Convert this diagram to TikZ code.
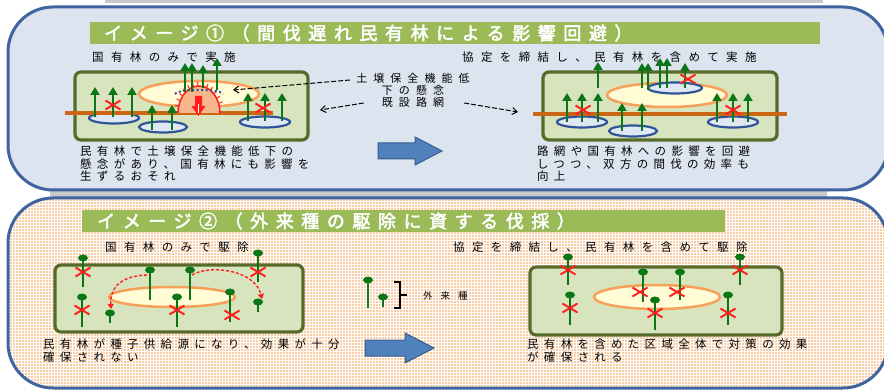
\documentclass[tikz,border=0pt]{standalone}
\usepackage{fontspec}
\usetikzlibrary{arrows.meta,patterns}
\newfontfamily\jp{Noto Sans CJK JP}
% size, baseline skip, letter spacing
\newcommand\jpf[3]{\fontsize{#1}{#2}\jp\addfontfeature{LetterSpace=#3}}

\definecolor{panelblue}{RGB}{220,228,240}
\definecolor{panelline}{RGB}{63,100,160}
\definecolor{peach}{RGB}{249,204,164}
\definecolor{titlegreen}{RGB}{155,187,89}
\definecolor{forest}{RGB}{215,228,189}
\definecolor{forestline}{RGB}{88,106,42}
\definecolor{clearing}{RGB}{255,252,214}
\definecolor{clearline}{RGB}{247,160,90}
\definecolor{roadbrown}{RGB}{204,102,20}
\definecolor{ringblue}{RGB}{47,85,151}
\definecolor{ringfill}{RGB}{222,231,243}
\definecolor{treegreen}{RGB}{10,118,22}
\definecolor{cutred}{RGB}{255,30,30}
\definecolor{domefill}{RGB}{248,182,140}
\definecolor{bigarrowfill}{RGB}{79,129,189}
\definecolor{bigarrowline}{RGB}{56,93,138}
\definecolor{shadowgrey}{RGB}{200,200,200}

\tikzset{
  panel/.style={draw=panelline, line width=3pt, rounded corners=45pt},
  bannertext/.style={text=white, anchor=west, inner sep=0pt,
    font={\jpf{18}{18}{42}\addfontfeature{FakeBold=2.5}}},
  subtext/.style={anchor=west, inner sep=0pt, font={\jpf{11.5}{12}{64}}},
  desctext/.style={anchor=north west, inner sep=0pt, align=left, font={\jpf{11.5}{12.5}{46}}},
  calltext/.style={inner sep=0pt, align=center, font={\jpf{11}{12}{55}}},
  legendtext/.style={anchor=west, inner sep=0pt, font={\jpf{9.5}{10}{84}}},
  forestbox/.style={draw=forestline, fill=forest, line width=3.2pt, rounded corners=6pt},
  clearingarea/.style={draw=clearline, fill=clearing, line width=2.5pt},
  ringspot/.style={draw=ringblue, fill=ringfill, line width=2.2pt},
  roadline/.style={draw=roadbrown, line width=3.5pt},
  treearrow/.style={draw=treegreen, line width=2.4pt, -{Triangle[width=9pt,length=8pt]}},
  weedstem/.style={draw=treegreen, line width=2.6pt},
  callarrow/.style={draw=black, line width=1pt, dash pattern=on 5pt off 2pt,
    -{Straight Barb[length=5pt,width=7pt]}},
  spreadarrow/.style={draw=cutred, line width=1.4pt, dash pattern=on 3pt off 2pt,
    -{Triangle[length=5pt,width=6pt]}},
  bigarrow/.style={fill=bigarrowfill, draw=bigarrowline, line width=1pt},
  cutmark/.pic={\draw[cutred, line width=1.9pt] (-7.5,-4.5) -- (7.5,4.5) (-7.5,4.5) -- (7.5,-4.5);},
  weedcap/.pic={\fill[treegreen] (0,0) ellipse[x radius=5, y radius=3.5];}
}

\begin{document}
\begin{tikzpicture}[x=1pt,y=-1pt]
\useasboundingbox (0,0) rectangle (884,390);
\fill[white] (0,0) rectangle (884,390);

% shadow strips behind the panels
\fill[shadowgrey] (105,0) rectangle (823,3);
\fill[shadowgrey] (50,191) rectangle (827,197);

% ---------- panel 1 ----------
\draw[panel, fill=panelblue] (8,7) rectangle (888,190);
\fill[titlegreen] (90,22) rectangle (820,44);
\node[bannertext] (title1) at (104,33) {イメージ①（間伐遅れ民有林による影響回避）};

\node[subtext] (sub1l) at (92,57) {国有林のみで実施};
\node[subtext] (sub1r) at (462,57) {協定を締結し、民有林を含めて実施};

% left forest: only the national forest is thinned
\draw[forestbox] (75,72) rectangle (308,140);
\draw[clearingarea] (199,94) ellipse[x radius=60, y radius=13];
\draw[ringspot] (114,118) ellipse[x radius=25, y radius=5.5];
\draw[ringspot] (163,127) ellipse[x radius=24, y radius=5.5];
\draw[ringspot] (265,122) ellipse[x radius=25, y radius=5.5];
\draw[roadline] (65,113) -- (273,113);
% slope failure on the unmanaged private forest
\fill[domefill] (178,113) arc[start angle=180, end angle=360, x radius=21, y radius=27] -- cycle;
\draw[cutred, line width=1.5pt] (178,113) arc[start angle=180, end angle=360, x radius=21, y radius=27];
\foreach \a in {195,207,...,345}
  \draw[cutred, line width=1pt] ({199+21*cos(\a)},{113+27*sin(\a)}) -- ({199+25*cos(\a)},{113+31*sin(\a)});
\draw[ringblue, line width=2pt, dash pattern=on 2pt off 2.5pt] (175,94) arc[start angle=180, end angle=360, x radius=24, y radius=4];
\fill[cutred] (195,96) -- (202,96) -- (202,106) -- (205.5,106) -- (198.5,116) -- (191.5,106) -- (195,106) -- cycle;
\draw[white, line width=1pt] (198.5,104) -- (198.5,113);
\foreach \xa/\ya/\yb in {95/117/87, 113/117/87, 132/117/87, 152/130/105, 172/130/105,
    185/92/63, 192/92/63, 203/88/65, 217/90/58, 248/121/93, 265/121/93, 282/121/93}
  \draw[treearrow] (\xa,\ya) -- (\xa,\yb);
\pic at (113,105) {cutmark};
\pic at (263,108) {cutmark};

% callouts
\node[calltext] (risk) at (413,84) {土壌保全機能低\\下の懸念};
\node[calltext] (roadlbl) at (413,102) {既設路網};
\coordinate (domehit) at (233,90);
\coordinate (roadhitl) at (320,110);
\coordinate (roadhitr) at (518,112);
\draw[callarrow] (risk.west) ++(-6,-4) -- (domehit);
\draw[callarrow] (roadlbl.west) ++(-18,1) -- (roadhitl);
\draw[callarrow] (roadlbl.east) ++(20,1) -- (roadhitr);

% right forest: thinning together with the private forest
\draw[forestbox] (543,72) rectangle (777,140);
\draw[clearingarea] (667,95) ellipse[x radius=60, y radius=12];
\draw[ringspot] (582,122) ellipse[x radius=25, y radius=5.5];
\draw[ringspot] (633,131) ellipse[x radius=24, y radius=5.5];
\draw[ringspot] (733,122) ellipse[x radius=25, y radius=5.5];
\draw[ringspot] (675,88) ellipse[x radius=27, y radius=5.5];
\draw[roadline] (533,114) -- (787,114);
\foreach \xa/\ya/\yb in {567/122/93, 582/122/93, 598/122/93, 598/88/62, 622/131/103, 642/131/103,
    642/88/63, 648/90/63, 660/88/58, 667/88/58, 685/88/63, 717/122/93, 733/122/93, 748/122/93}
  \draw[treearrow] (\xa,\ya) -- (\xa,\yb);
\pic at (583,110) {cutmark};
\pic at (733,110) {cutmark};
\pic at (688,79) {cutmark};

\draw[bigarrow] (378,143) -- (415,143) -- (415,137) -- (442,151) -- (415,165) -- (415,159) -- (378,159) -- cycle;

\node[desctext] (desc1l) at (80,146) {民有林で土壌保全機能低下の\\懸念があり、国有林にも影響を\\生ずるおそれ};
\node[desctext] (desc1r) at (537,146) {路網や国有林への影響を回避\\しつつ、双方の間伐の効率も\\向上};

% ---------- panel 2 ----------
\fill[peach, rounded corners=45pt] (8,198) rectangle (888,388);
\fill[pattern=grid, pattern color=white, rounded corners=45pt] (8,198) rectangle (888,388);
\draw[panel] (8,198) rectangle (888,388);
\fill[titlegreen] (82,210) rectangle (725,232);
\node[bannertext] (title2) at (97,221) {イメージ②（外来種の駆除に資する伐採）};

\node[subtext] (sub2l) at (105,247) {国有林のみで駆除};
\node[subtext] (sub2r) at (453,247) {協定を締結し、民有林を含めて駆除};

% left forest: removal only in the national forest
\draw[forestbox] (55,265) rectangle (303,332);
\draw[clearingarea] (172,297) ellipse[x radius=63, y radius=10];
\foreach \xa/\ya/\yb in {83/258/287, 150/270/300, 190/270/300, 258/253/282, 82/297/327,
    110/313/323, 177/297/327, 230/292/322, 258/302/312} {
  \draw[weedstem] (\xa,\yb) -- (\xa,\ya);
  \pic at (\xa,\ya) {weedcap};
}
\foreach \xa/\ya in {83/272, 258/272, 82/310, 177/310, 232/315}
  \pic at (\xa,\ya) {cutmark};
\coordinate (seedl) at (147,275);
\coordinate (landl) at (111,309);
\coordinate (seedr) at (192,275);
\coordinate (landr) at (262,299);
\draw[spreadarrow] (seedl) .. controls (118,276) and (110,290) .. (landl);
\draw[spreadarrow] (seedr) .. controls (210,264) and (255,270) .. (landr);

% legend
\draw[weedstem] (368,308) -- (368,280);
\pic at (368,280) {weedcap};
\draw[weedstem] (383,307) -- (383,297);
\pic at (383,297) {weedcap};
\draw[black, line width=1.2pt] (394,282) -- (400,282) -- (400,308) -- (394,308) (400,295) -- (407,295);
\node[legendtext] (legend) at (423,296) {外来種};

\draw[bigarrow] (365,340) -- (405,340) -- (405,333) -- (434,348) -- (405,363) -- (405,356) -- (365,356) -- cycle;

% right forest: removal including the private forest
\draw[forestbox] (530,267) rectangle (782,335);
\draw[clearingarea] (657,297) ellipse[x radius=63, y radius=12];
\foreach \xa/\ya/\yb in {568/257/285, 570/295/325, 643/272/302, 680/272/300, 655/300/330,
    740/257/285, 728/295/325} {
  \draw[weedstem] (\xa,\yb) -- (\xa,\ya);
  \pic at (\xa,\ya) {weedcap};
}
\foreach \xa/\ya in {568/270, 570/308, 640/292, 677/292, 655/313, 740/270, 728/313}
  \pic at (\xa,\ya) {cutmark};

\node[desctext] (desc2l) at (43,339) {民有林が種子供給源になり、効果が十分\\確保されない};
\node[desctext] (desc2r) at (527,339) {民有林を含めた区域全体で対策の効果\\が確保される};
\end{tikzpicture}
\end{document}
